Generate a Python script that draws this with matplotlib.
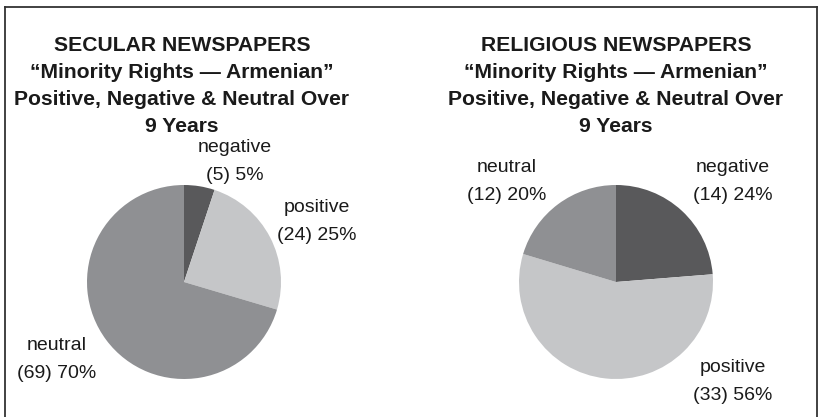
import matplotlib.pyplot as plt
from matplotlib.lines import Line2D

plt.rcParams['font.family'] = ['Liberation Sans', 'DejaVu Sans']

# data
categories = ['negative', 'positive', 'neutral']
secular_counts = [5, 24, 69]
secular_pct = [5, 25, 70]
religious_counts = [14, 33, 12]
religious_pct = [24, 56, 20]

colors = ['#59595b', '#c5c6c8', '#8f9093']

secular_title = ['SECULAR NEWSPAPERS', '\u201cMinority Rights \u2014 Armenian\u201d',
                 'Positive, Negative & Neutral Over', '9 Years']
religious_title = ['RELIGIOUS NEWSPAPERS', '\u201cMinority Rights \u2014 Armenian\u201d',
                   'Positive, Negative & Neutral Over', '9 Years']

W, H = 819, 417
fig = plt.figure(figsize=(W / 100, H / 100), dpi=100)
ax = fig.add_axes([0, 0, 1, 1])

# panel layout in pixels (y measured from the top)
panels = [
    dict(counts=secular_counts, pct=secular_pct, title=secular_title,
         cx=184, cy=282, tx=182,
         label_pos={'negative': (235, 161), 'positive': (317, 221), 'neutral': (57, 360)}),
    dict(counts=religious_counts, pct=religious_pct, title=religious_title,
         cx=616, cy=282, tx=616,
         label_pos={'neutral': (507, 181), 'negative': (733, 181), 'positive': (733, 381)}),
]
R = 97

for p in panels:
    ax.pie(p['counts'], colors=colors, startangle=90, counterclock=False,
           center=(p['cx'], H - p['cy']), radius=R, frame=True,
           wedgeprops=dict(linewidth=0))
    for i, line in enumerate(p['title']):
        ax.text(p['tx'], H - (45 + 27 * i), line, ha='center', va='center',
                fontsize=15.2, fontweight='bold', color='#1a1a1a')
    for cat, n, pc in zip(categories, p['counts'], p['pct']):
        x, y = p['label_pos'][cat]
        ax.text(x, H - (y - 14), cat, ha='center', va='center', fontsize=14, color='#1a1a1a')
        ax.text(x, H - (y + 14), '(%d) %d%%' % (n, pc), ha='center', va='center',
                fontsize=14, color='#1a1a1a')

ax.set_xlim(0, W)
ax.set_ylim(0, H)
ax.set_aspect('equal')
ax.axis('off')

# border (left, top, right)
for xs, ys in [([5, 5], [0, H - 7]), ([5, 817], [H - 7, H - 7]), ([817, 817], [H - 7, 0])]:
    fig.add_artist(Line2D([x / W for x in xs], [y / H for y in ys], color='#333333',
                          linewidth=1.3, transform=fig.transFigure))

fig.savefig('out.png', dpi=100)
